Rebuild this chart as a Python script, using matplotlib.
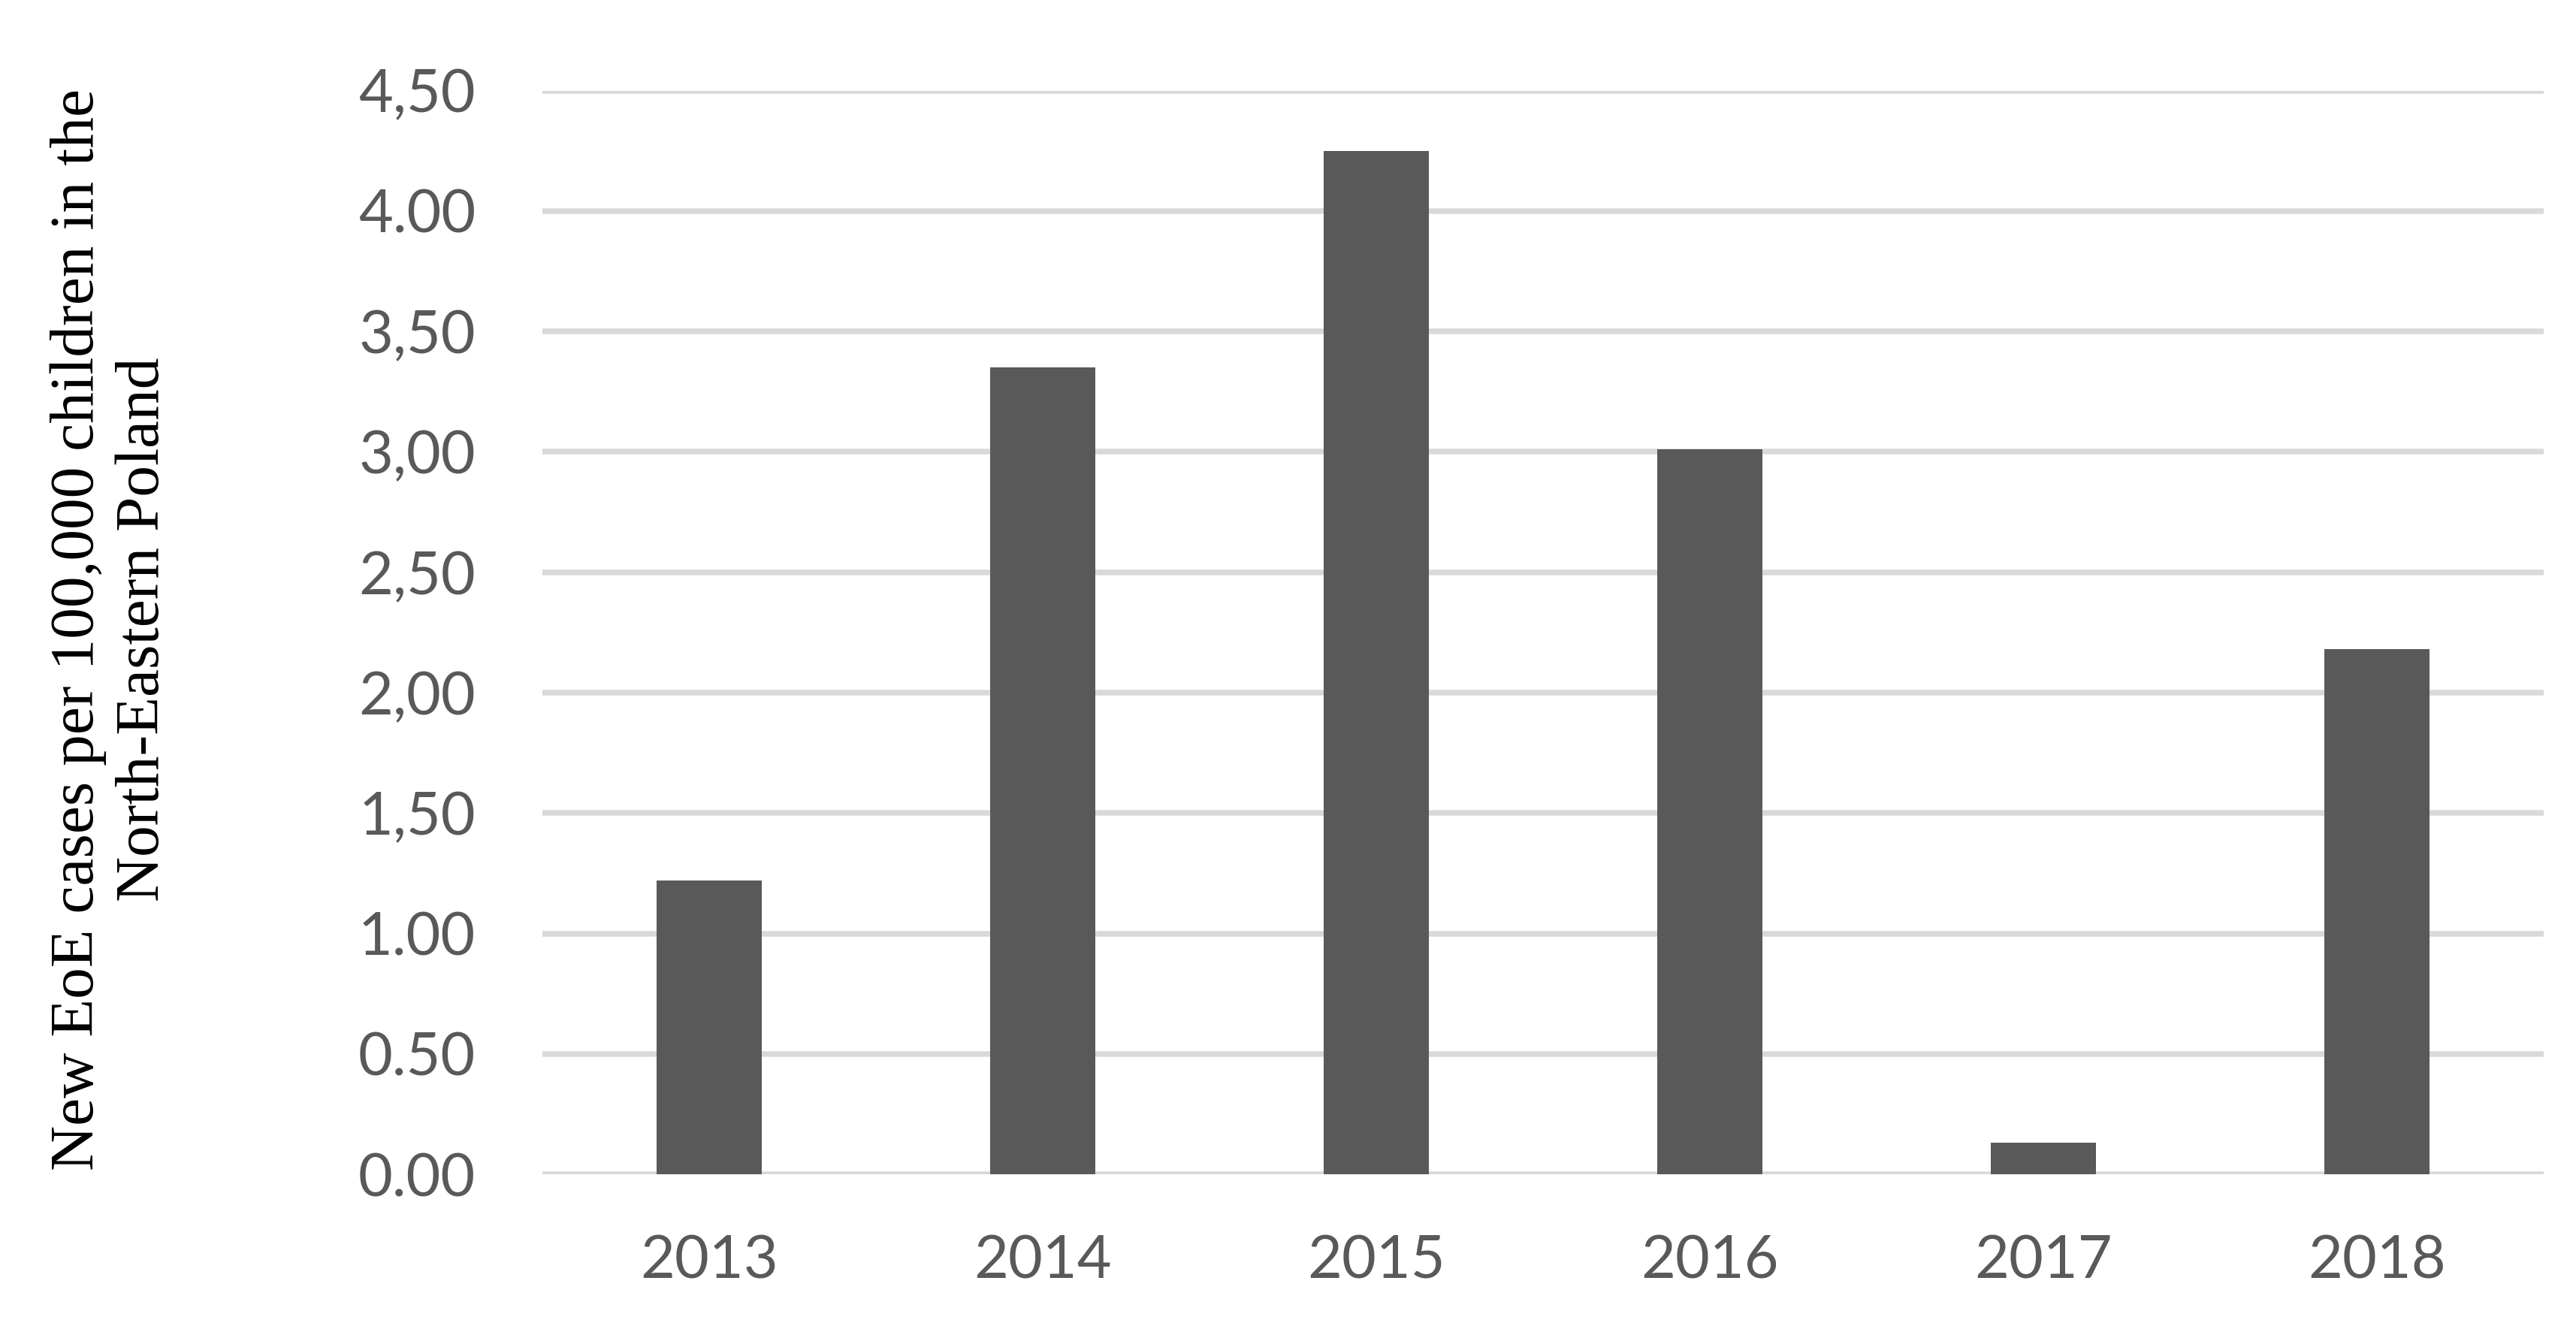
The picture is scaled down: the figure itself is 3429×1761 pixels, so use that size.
import numpy as np
import matplotlib
matplotlib.use("Agg")
import matplotlib.pyplot as plt

# new EoE cases per 100,000 children
years = ["2013", "2014", "2015", "2016", "2017", "2018"]
cases = [1.22, 3.35, 4.25, 3.01, 0.13, 2.18]

y_ticks = [0.0, 0.5, 1.0, 1.5, 2.0, 2.5, 3.0, 3.5, 4.0, 4.5]
y_labels = ["0.00", "0.50", "1.00", "1,50", "2,00", "2,50", "3,00", "3,50", "4.00", "4,50"]

ylabel = "New EoE cases per 100,000 children in the\nNorth-Eastern Poland"

bar_col = "#595959"
grid_col = "#d9d9d9"
txt_col = "#595959"

fig = plt.figure(figsize=(34.3, 17.61), dpi=100)
ax = fig.add_axes([0.2105, 0.1124, 0.7766, 0.8191])

x = np.arange(len(years))
ax.bar(x, cases, width=0.315, color=bar_col, zorder=3)

ax.set_xlim(-0.5, len(years) - 0.5)
ax.set_ylim(0, 4.5)
ax.set_yticks(y_ticks)
ax.set_yticklabels(y_labels)
ax.set_xticks(x)
ax.set_xticklabels(years)

ax.yaxis.grid(True, color=grid_col, linewidth=5.4, zorder=0)
ax.set_axisbelow(True)
for s in ax.spines.values():
    s.set_visible(False)
ax.tick_params(axis="both", length=0, labelcolor=txt_col, labelsize=57)
ax.tick_params(axis="y", pad=64)
ax.tick_params(axis="x", pad=58)
for lab in ax.get_xticklabels() + ax.get_yticklabels():
    lab.set_family("Lato")

fig.text(0.043, 0.524, ylabel, rotation=90, ha="center", va="center",
         multialignment="center", family="Liberation Serif", fontsize=60,
         color="black", linespacing=1.2)

fig.savefig("out.png", dpi=100, facecolor="white")
